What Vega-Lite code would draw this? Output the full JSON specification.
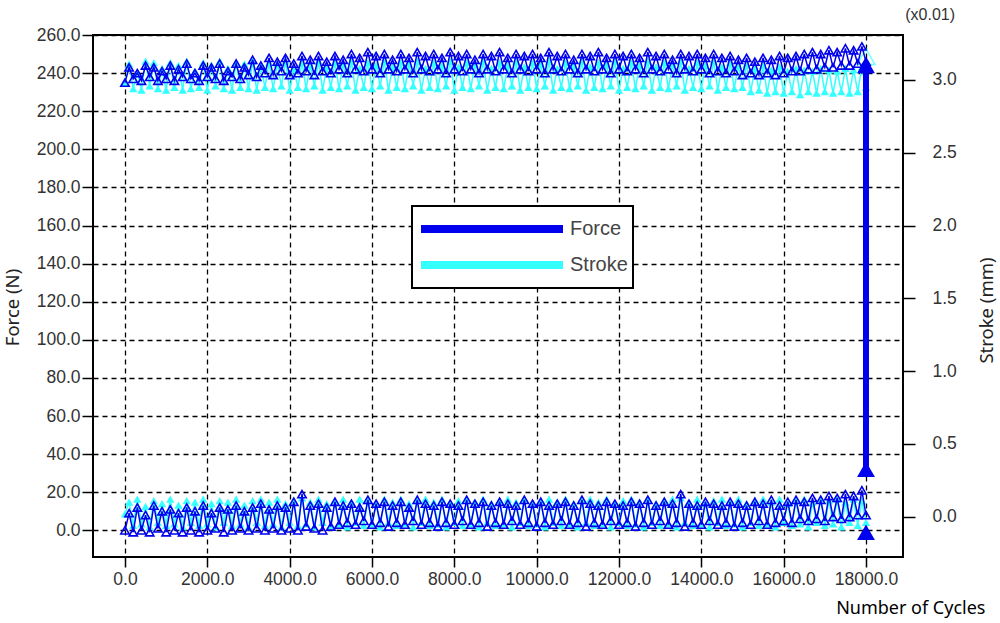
{
  "$schema": "https://vega.github.io/schema/vega-lite/v6.json",
  "width": 810,
  "height": 522,
  "autosize": {"type": "none"},
  "padding": {"left": 93, "top": 35, "right": 97, "bottom": 66},
  "background": "white",
  "title": {
    "text": "(x0.01)",
    "frame": "group",
    "anchor": "end",
    "dx": 52,
    "dy": 15,
    "offset": 5,
    "baseline": "alphabetic",
    "font": "Liberation Sans",
    "fontSize": 16,
    "fontWeight": "normal",
    "color": "#333"
  },
  "config": {
    "view": {"stroke": "black", "strokeWidth": 2},
    "axis": {
      "domain": false,
      "labelFont": "Liberation Sans",
      "labelFontSize": 17.5,
      "labelColor": "#333",
      "tickColor": "black",
      "tickWidth": 1.5,
      "titleFont": "Noto Sans",
      "titleFontSize": 18.5,
      "titleFontWeight": "normal",
      "titleColor": "#222",
      "gridColor": "black",
      "gridOpacity": 1,
      "gridDash": [5, 4],
      "gridWidth": 1.3
    },
    "legend": {
      "orient": "none",
      "legendX": 319,
      "legendY": 171,
      "strokeColor": "black",
      "strokeWidth": 2,
      "fillColor": "white",
      "padding": 5,
      "symbolType": "stroke",
      "symbolSize": 20164,
      "symbolStrokeWidth": 8,
      "clipHeight": 36,
      "rowPadding": 0,
      "labelOffset": 3,
      "labelFont": "Liberation Sans",
      "labelFontSize": 20,
      "labelColor": "#444"
    }
  },
  "datasets": {
    "cycles": [
      {"cycle": 0, "fmax": 235, "fmin": 0, "smax": 2.98, "smin": 0.02},
      {"cycle": 100, "fmax": 243, "fmin": 9, "smax": 3.11, "smin": 0.10},
      {"cycle": 200, "fmax": 237, "fmin": -1, "smax": 2.94, "smin": -0.06},
      {"cycle": 300, "fmax": 240, "fmin": 12, "smax": 3.05, "smin": 0.12},
      {"cycle": 400, "fmax": 236, "fmin": 0, "smax": 2.93, "smin": -0.05},
      {"cycle": 500, "fmax": 244, "fmin": 8, "smax": 3.13, "smin": 0.07},
      {"cycle": 600, "fmax": 238, "fmin": -1, "smax": 2.96, "smin": -0.07},
      {"cycle": 700, "fmax": 243, "fmin": 13, "smax": 3.12, "smin": 0.11},
      {"cycle": 800, "fmax": 236, "fmin": 1, "smax": 2.94, "smin": -0.04},
      {"cycle": 900, "fmax": 241, "fmin": 10, "smax": 3.08, "smin": 0.09},
      {"cycle": 1000, "fmax": 237, "fmin": -1, "smax": 2.93, "smin": -0.06},
      {"cycle": 1100, "fmax": 244, "fmin": 11, "smax": 3.12, "smin": 0.12},
      {"cycle": 1200, "fmax": 236, "fmin": 0, "smax": 2.95, "smin": -0.05},
      {"cycle": 1300, "fmax": 242, "fmin": 9, "smax": 3.10, "smin": 0.08},
      {"cycle": 1400, "fmax": 238, "fmin": -1, "smax": 2.93, "smin": -0.07},
      {"cycle": 1500, "fmax": 245, "fmin": 12, "smax": 3.13, "smin": 0.11},
      {"cycle": 1600, "fmax": 237, "fmin": 0, "smax": 2.94, "smin": -0.04},
      {"cycle": 1700, "fmax": 240, "fmin": 10, "smax": 3.06, "smin": 0.10},
      {"cycle": 1800, "fmax": 236, "fmin": -1, "smax": 2.95, "smin": -0.06},
      {"cycle": 1900, "fmax": 244, "fmin": 13, "smax": 3.12, "smin": 0.12},
      {"cycle": 2000, "fmax": 238, "fmin": 0, "smax": 2.93, "smin": -0.05},
      {"cycle": 2100, "fmax": 243, "fmin": 9, "smax": 3.10, "smin": 0.09},
      {"cycle": 2200, "fmax": 237, "fmin": 1, "smax": 2.96, "smin": -0.07},
      {"cycle": 2300, "fmax": 245, "fmin": 12, "smax": 3.13, "smin": 0.11},
      {"cycle": 2400, "fmax": 236, "fmin": -1, "smax": 2.94, "smin": -0.04},
      {"cycle": 2500, "fmax": 241, "fmin": 11, "smax": 3.08, "smin": 0.10},
      {"cycle": 2600, "fmax": 238, "fmin": 0, "smax": 2.93, "smin": -0.06},
      {"cycle": 2700, "fmax": 245, "fmin": 13, "smax": 3.12, "smin": 0.12},
      {"cycle": 2800, "fmax": 237, "fmin": 1, "smax": 2.95, "smin": -0.05},
      {"cycle": 2900, "fmax": 243, "fmin": 10, "smax": 3.11, "smin": 0.08},
      {"cycle": 3000, "fmax": 239, "fmin": 0, "smax": 2.94, "smin": -0.07},
      {"cycle": 3100, "fmax": 247, "fmin": 12, "smax": 3.13, "smin": 0.11},
      {"cycle": 3200, "fmax": 238, "fmin": 1, "smax": 2.93, "smin": -0.04},
      {"cycle": 3300, "fmax": 244, "fmin": 14, "smax": 3.09, "smin": 0.12},
      {"cycle": 3400, "fmax": 240, "fmin": 0, "smax": 2.95, "smin": -0.06},
      {"cycle": 3500, "fmax": 248, "fmin": 11, "smax": 3.12, "smin": 0.10},
      {"cycle": 3600, "fmax": 239, "fmin": 1, "smax": 2.94, "smin": -0.05},
      {"cycle": 3700, "fmax": 246, "fmin": 13, "smax": 3.11, "smin": 0.12},
      {"cycle": 3800, "fmax": 241, "fmin": 0, "smax": 2.96, "smin": -0.07},
      {"cycle": 3900, "fmax": 248, "fmin": 12, "smax": 3.13, "smin": 0.09},
      {"cycle": 4000, "fmax": 239, "fmin": 1, "smax": 2.93, "smin": -0.04},
      {"cycle": 4100, "fmax": 245, "fmin": 15, "smax": 3.08, "smin": 0.11},
      {"cycle": 4200, "fmax": 240, "fmin": 0, "smax": 2.95, "smin": -0.06},
      {"cycle": 4300, "fmax": 249, "fmin": 19, "smax": 3.12, "smin": 0.13},
      {"cycle": 4400, "fmax": 241, "fmin": 2, "smax": 2.94, "smin": -0.05},
      {"cycle": 4500, "fmax": 247, "fmin": 13, "smax": 3.10, "smin": 0.10},
      {"cycle": 4600, "fmax": 239, "fmin": 1, "smax": 2.96, "smin": -0.07},
      {"cycle": 4700, "fmax": 249, "fmin": 14, "smax": 3.13, "smin": 0.12},
      {"cycle": 4800, "fmax": 241, "fmin": 0, "smax": 2.93, "smin": -0.04},
      {"cycle": 4900, "fmax": 246, "fmin": 12, "smax": 3.09, "smin": 0.09},
      {"cycle": 5000, "fmax": 240, "fmin": 2, "smax": 2.95, "smin": -0.06},
      {"cycle": 5100, "fmax": 249, "fmin": 15, "smax": 3.12, "smin": 0.11},
      {"cycle": 5200, "fmax": 242, "fmin": 3, "smax": 2.94, "smin": -0.05},
      {"cycle": 5300, "fmax": 247, "fmin": 13, "smax": 3.11, "smin": 0.12},
      {"cycle": 5400, "fmax": 240, "fmin": 4, "smax": 2.96, "smin": -0.07},
      {"cycle": 5500, "fmax": 250, "fmin": 14, "smax": 3.13, "smin": 0.10},
      {"cycle": 5600, "fmax": 242, "fmin": 3, "smax": 2.93, "smin": -0.04},
      {"cycle": 5700, "fmax": 248, "fmin": 12, "smax": 3.08, "smin": 0.12},
      {"cycle": 5800, "fmax": 241, "fmin": 5, "smax": 2.95, "smin": -0.06},
      {"cycle": 5900, "fmax": 251, "fmin": 16, "smax": 3.12, "smin": 0.11},
      {"cycle": 6000, "fmax": 242, "fmin": 3, "smax": 2.94, "smin": -0.05},
      {"cycle": 6100, "fmax": 249, "fmin": 14, "smax": 3.10, "smin": 0.09},
      {"cycle": 6200, "fmax": 240, "fmin": 4, "smax": 2.96, "smin": -0.07},
      {"cycle": 6300, "fmax": 250, "fmin": 15, "smax": 3.13, "smin": 0.12},
      {"cycle": 6400, "fmax": 242, "fmin": 2, "smax": 2.93, "smin": -0.04},
      {"cycle": 6500, "fmax": 247, "fmin": 13, "smax": 3.09, "smin": 0.10},
      {"cycle": 6600, "fmax": 241, "fmin": 4, "smax": 2.95, "smin": -0.06},
      {"cycle": 6700, "fmax": 250, "fmin": 15, "smax": 3.12, "smin": 0.12},
      {"cycle": 6800, "fmax": 242, "fmin": 3, "smax": 2.94, "smin": -0.05},
      {"cycle": 6900, "fmax": 248, "fmin": 12, "smax": 3.11, "smin": 0.09},
      {"cycle": 7000, "fmax": 240, "fmin": 5, "smax": 2.96, "smin": -0.07},
      {"cycle": 7100, "fmax": 251, "fmin": 16, "smax": 3.13, "smin": 0.11},
      {"cycle": 7200, "fmax": 242, "fmin": 3, "smax": 2.93, "smin": -0.04},
      {"cycle": 7300, "fmax": 249, "fmin": 14, "smax": 3.08, "smin": 0.12},
      {"cycle": 7400, "fmax": 241, "fmin": 4, "smax": 2.95, "smin": -0.06},
      {"cycle": 7500, "fmax": 250, "fmin": 13, "smax": 3.12, "smin": 0.10},
      {"cycle": 7600, "fmax": 242, "fmin": 2, "smax": 2.94, "smin": -0.05},
      {"cycle": 7700, "fmax": 248, "fmin": 15, "smax": 3.10, "smin": 0.12},
      {"cycle": 7800, "fmax": 240, "fmin": 4, "smax": 2.96, "smin": -0.07},
      {"cycle": 7900, "fmax": 251, "fmin": 14, "smax": 3.13, "smin": 0.09},
      {"cycle": 8000, "fmax": 242, "fmin": 3, "smax": 2.93, "smin": -0.04},
      {"cycle": 8100, "fmax": 249, "fmin": 13, "smax": 3.09, "smin": 0.11},
      {"cycle": 8200, "fmax": 241, "fmin": 5, "smax": 2.95, "smin": -0.06},
      {"cycle": 8300, "fmax": 250, "fmin": 16, "smax": 3.12, "smin": 0.12},
      {"cycle": 8400, "fmax": 242, "fmin": 3, "smax": 2.94, "smin": -0.05},
      {"cycle": 8500, "fmax": 247, "fmin": 14, "smax": 3.11, "smin": 0.10},
      {"cycle": 8600, "fmax": 240, "fmin": 4, "smax": 2.96, "smin": -0.07},
      {"cycle": 8700, "fmax": 250, "fmin": 15, "smax": 3.13, "smin": 0.12},
      {"cycle": 8800, "fmax": 242, "fmin": 2, "smax": 2.93, "smin": -0.04},
      {"cycle": 8900, "fmax": 249, "fmin": 13, "smax": 3.08, "smin": 0.09},
      {"cycle": 9000, "fmax": 241, "fmin": 4, "smax": 2.95, "smin": -0.06},
      {"cycle": 9100, "fmax": 251, "fmin": 15, "smax": 3.12, "smin": 0.11},
      {"cycle": 9200, "fmax": 242, "fmin": 3, "smax": 2.94, "smin": -0.05},
      {"cycle": 9300, "fmax": 248, "fmin": 14, "smax": 3.10, "smin": 0.12},
      {"cycle": 9400, "fmax": 240, "fmin": 5, "smax": 2.96, "smin": -0.07},
      {"cycle": 9500, "fmax": 250, "fmin": 13, "smax": 3.13, "smin": 0.10},
      {"cycle": 9600, "fmax": 242, "fmin": 3, "smax": 2.93, "smin": -0.04},
      {"cycle": 9700, "fmax": 249, "fmin": 16, "smax": 3.09, "smin": 0.12},
      {"cycle": 9800, "fmax": 241, "fmin": 4, "smax": 2.95, "smin": -0.06},
      {"cycle": 9900, "fmax": 250, "fmin": 14, "smax": 3.12, "smin": 0.09},
      {"cycle": 10000, "fmax": 242, "fmin": 2, "smax": 2.94, "smin": -0.05},
      {"cycle": 10100, "fmax": 248, "fmin": 15, "smax": 3.11, "smin": 0.11},
      {"cycle": 10200, "fmax": 240, "fmin": 4, "smax": 2.96, "smin": -0.07},
      {"cycle": 10300, "fmax": 251, "fmin": 13, "smax": 3.13, "smin": 0.12},
      {"cycle": 10400, "fmax": 242, "fmin": 3, "smax": 2.93, "smin": -0.04},
      {"cycle": 10500, "fmax": 249, "fmin": 14, "smax": 3.08, "smin": 0.10},
      {"cycle": 10600, "fmax": 241, "fmin": 5, "smax": 2.95, "smin": -0.06},
      {"cycle": 10700, "fmax": 250, "fmin": 15, "smax": 3.12, "smin": 0.12},
      {"cycle": 10800, "fmax": 242, "fmin": 3, "smax": 2.94, "smin": -0.05},
      {"cycle": 10900, "fmax": 247, "fmin": 13, "smax": 3.10, "smin": 0.09},
      {"cycle": 11000, "fmax": 240, "fmin": 4, "smax": 2.96, "smin": -0.07},
      {"cycle": 11100, "fmax": 250, "fmin": 16, "smax": 3.13, "smin": 0.11},
      {"cycle": 11200, "fmax": 242, "fmin": 2, "smax": 2.93, "smin": -0.04},
      {"cycle": 11300, "fmax": 249, "fmin": 14, "smax": 3.09, "smin": 0.12},
      {"cycle": 11400, "fmax": 241, "fmin": 4, "smax": 2.95, "smin": -0.06},
      {"cycle": 11500, "fmax": 251, "fmin": 13, "smax": 3.12, "smin": 0.10},
      {"cycle": 11600, "fmax": 242, "fmin": 3, "smax": 2.94, "smin": -0.05},
      {"cycle": 11700, "fmax": 248, "fmin": 15, "smax": 3.11, "smin": 0.12},
      {"cycle": 11800, "fmax": 240, "fmin": 5, "smax": 2.96, "smin": -0.07},
      {"cycle": 11900, "fmax": 250, "fmin": 14, "smax": 3.13, "smin": 0.09},
      {"cycle": 12000, "fmax": 242, "fmin": 3, "smax": 2.93, "smin": -0.04},
      {"cycle": 12100, "fmax": 249, "fmin": 13, "smax": 3.08, "smin": 0.11},
      {"cycle": 12200, "fmax": 241, "fmin": 4, "smax": 2.95, "smin": -0.06},
      {"cycle": 12300, "fmax": 250, "fmin": 15, "smax": 3.12, "smin": 0.12},
      {"cycle": 12400, "fmax": 242, "fmin": 2, "smax": 2.94, "smin": -0.05},
      {"cycle": 12500, "fmax": 248, "fmin": 14, "smax": 3.10, "smin": 0.10},
      {"cycle": 12600, "fmax": 240, "fmin": 4, "smax": 2.96, "smin": -0.07},
      {"cycle": 12700, "fmax": 251, "fmin": 16, "smax": 3.13, "smin": 0.12},
      {"cycle": 12800, "fmax": 242, "fmin": 3, "smax": 2.93, "smin": -0.04},
      {"cycle": 12900, "fmax": 249, "fmin": 13, "smax": 3.09, "smin": 0.09},
      {"cycle": 13000, "fmax": 241, "fmin": 5, "smax": 2.95, "smin": -0.06},
      {"cycle": 13100, "fmax": 250, "fmin": 15, "smax": 3.12, "smin": 0.11},
      {"cycle": 13200, "fmax": 242, "fmin": 3, "smax": 2.94, "smin": -0.05},
      {"cycle": 13300, "fmax": 247, "fmin": 14, "smax": 3.11, "smin": 0.12},
      {"cycle": 13400, "fmax": 240, "fmin": 4, "smax": 2.96, "smin": -0.07},
      {"cycle": 13500, "fmax": 250, "fmin": 19, "smax": 3.13, "smin": 0.13},
      {"cycle": 13600, "fmax": 242, "fmin": 2, "smax": 2.93, "smin": -0.04},
      {"cycle": 13700, "fmax": 249, "fmin": 14, "smax": 3.08, "smin": 0.10},
      {"cycle": 13800, "fmax": 241, "fmin": 4, "smax": 2.95, "smin": -0.06},
      {"cycle": 13900, "fmax": 250, "fmin": 13, "smax": 3.12, "smin": 0.12},
      {"cycle": 14000, "fmax": 242, "fmin": 3, "smax": 2.94, "smin": -0.05},
      {"cycle": 14100, "fmax": 248, "fmin": 15, "smax": 3.10, "smin": 0.09},
      {"cycle": 14200, "fmax": 240, "fmin": 5, "smax": 2.96, "smin": -0.07},
      {"cycle": 14300, "fmax": 250, "fmin": 14, "smax": 3.13, "smin": 0.11},
      {"cycle": 14400, "fmax": 241, "fmin": 3, "smax": 2.93, "smin": -0.04},
      {"cycle": 14500, "fmax": 248, "fmin": 13, "smax": 3.09, "smin": 0.12},
      {"cycle": 14600, "fmax": 240, "fmin": 4, "smax": 2.95, "smin": -0.06},
      {"cycle": 14700, "fmax": 249, "fmin": 15, "smax": 3.12, "smin": 0.10},
      {"cycle": 14800, "fmax": 241, "fmin": 2, "smax": 2.94, "smin": -0.05},
      {"cycle": 14900, "fmax": 247, "fmin": 14, "smax": 3.10, "smin": 0.12},
      {"cycle": 15000, "fmax": 239, "fmin": 4, "smax": 2.95, "smin": -0.07},
      {"cycle": 15100, "fmax": 248, "fmin": 13, "smax": 3.11, "smin": 0.09},
      {"cycle": 15200, "fmax": 240, "fmin": 3, "smax": 2.92, "smin": -0.04},
      {"cycle": 15300, "fmax": 246, "fmin": 15, "smax": 3.08, "smin": 0.11},
      {"cycle": 15400, "fmax": 239, "fmin": 5, "smax": 2.93, "smin": -0.06},
      {"cycle": 15500, "fmax": 248, "fmin": 14, "smax": 3.10, "smin": 0.12},
      {"cycle": 15600, "fmax": 240, "fmin": 3, "smax": 2.91, "smin": -0.05},
      {"cycle": 15700, "fmax": 247, "fmin": 16, "smax": 3.07, "smin": 0.10},
      {"cycle": 15800, "fmax": 239, "fmin": 4, "smax": 2.92, "smin": -0.07},
      {"cycle": 15900, "fmax": 249, "fmin": 13, "smax": 3.09, "smin": 0.12},
      {"cycle": 16000, "fmax": 240, "fmin": 5, "smax": 2.91, "smin": -0.04},
      {"cycle": 16100, "fmax": 248, "fmin": 15, "smax": 3.06, "smin": 0.09},
      {"cycle": 16200, "fmax": 241, "fmin": 4, "smax": 2.92, "smin": -0.06},
      {"cycle": 16300, "fmax": 249, "fmin": 16, "smax": 3.08, "smin": 0.11},
      {"cycle": 16400, "fmax": 241, "fmin": 6, "smax": 2.90, "smin": -0.05},
      {"cycle": 16500, "fmax": 250, "fmin": 15, "smax": 3.07, "smin": 0.12},
      {"cycle": 16600, "fmax": 242, "fmin": 5, "smax": 2.92, "smin": -0.07},
      {"cycle": 16700, "fmax": 251, "fmin": 17, "smax": 3.06, "smin": 0.10},
      {"cycle": 16800, "fmax": 242, "fmin": 6, "smax": 2.91, "smin": -0.04},
      {"cycle": 16900, "fmax": 250, "fmin": 16, "smax": 3.08, "smin": 0.12},
      {"cycle": 17000, "fmax": 243, "fmin": 5, "smax": 2.92, "smin": -0.06},
      {"cycle": 17100, "fmax": 252, "fmin": 18, "smax": 3.07, "smin": 0.11},
      {"cycle": 17200, "fmax": 243, "fmin": 7, "smax": 2.91, "smin": -0.05},
      {"cycle": 17300, "fmax": 251, "fmin": 17, "smax": 3.06, "smin": 0.12},
      {"cycle": 17400, "fmax": 244, "fmin": 6, "smax": 2.92, "smin": -0.07},
      {"cycle": 17500, "fmax": 253, "fmin": 19, "smax": 3.08, "smin": 0.10},
      {"cycle": 17600, "fmax": 244, "fmin": 7, "smax": 2.91, "smin": -0.04},
      {"cycle": 17700, "fmax": 252, "fmin": 18, "smax": 3.07, "smin": 0.12},
      {"cycle": 17800, "fmax": 245, "fmin": 8, "smax": 2.92, "smin": -0.06},
      {"cycle": 17900, "fmax": 254, "fmin": 21, "smax": 3.09, "smin": 0.11},
      {"cycle": 18000, "fmax": 246, "fmin": 8, "smax": 2.95, "smin": -0.04}
    ],
    "failure": [
      {"cycle": 18000, "force": 244, "force_end": 32}
    ],
    "forceEnds": [
      {"cycle": 18000, "force": 244},
      {"cycle": 18000, "force": 32},
      {"cycle": 18000, "force": -1}
    ],
    "strokeEnds": [
      {"cycle": 18000, "stroke": 3.16}
    ]
  },
  "encoding": {
    "x": {
      "field": "cycle",
      "type": "quantitative",
      "scale": {"domain": [-777, 18899], "nice": false, "zero": false},
      "axis": {
        "values": [0, 2000, 4000, 6000, 8000, 10000, 12000, 14000, 16000, 18000],
        "format": ".1f",
        "grid": true,
        "tickSize": 10,
        "labelPadding": 3,
        "title": "Number of Cycles",
        "titleX": 892,
        "titleY": 56,
        "titleAlign": "right",
        "titleBaseline": "alphabetic",
        "titleFontSize": 18,
        "titleColor": "black"
      }
    }
  },
  "layer": [
    {
      "encoding": {
        "y": {
          "field": "stroke",
          "type": "quantitative",
          "scale": {"domain": [-0.277, 3.309], "nice": false, "zero": false},
          "axis": {
            "orient": "right",
            "values": [0, 0.5, 1, 1.5, 2, 2.5, 3],
            "format": ".1f",
            "grid": false,
            "tickSize": 12,
            "labelPadding": 17,
            "title": "Stroke (mm)",
            "titleAngle": 270,
            "titleX": 83,
            "titleY": 275,
            "titleAlign": "center",
            "titleBaseline": "middle"
          }
        },
        "color": {"datum": "Stroke"}
      },
      "layer": [
        {
          "data": {"name": "cycles"},
          "transform": [{"fold": ["smax", "smin"], "as": ["band", "stroke"]}],
          "mark": {
            "type": "line",
            "strokeWidth": 1.5,
            "point": {"shape": "triangle-up", "filled": true, "size": 70}
          },
          "encoding": {"detail": {"field": "band"}}
        },
        {
          "data": {"name": "strokeEnds"},
          "mark": {"type": "point", "shape": "triangle-up", "filled": false, "size": 320, "strokeWidth": 1.5}
        }
      ]
    },
    {
      "encoding": {
        "y": {
          "field": "force",
          "type": "quantitative",
          "scale": {"domain": [-14, 260], "nice": false, "zero": false},
          "axis": {
            "orient": "left",
            "values": [0, 20, 40, 60, 80, 100, 120, 140, 160, 180, 200, 220, 240, 260],
            "format": ".1f",
            "grid": true,
            "tickSize": 11,
            "labelPadding": 2,
            "title": "Force (N)",
            "titleAngle": 270,
            "titleX": -81,
            "titleY": 272,
            "titleAlign": "center",
            "titleBaseline": "middle"
          }
        },
        "color": {
          "datum": "Force",
          "scale": {"domain": ["Force", "Stroke"], "range": ["#0000ee", "#33ffff"]},
          "legend": {"title": null}
        }
      },
      "layer": [
        {
          "data": {"name": "cycles"},
          "transform": [{"fold": ["fmax", "fmin"], "as": ["band", "force"]}],
          "mark": {
            "type": "line",
            "strokeWidth": 1.5,
            "point": {"shape": "triangle-up", "filled": false, "size": 70, "strokeWidth": 1.6}
          },
          "encoding": {"detail": {"field": "band"}}
        },
        {
          "data": {"name": "failure"},
          "mark": {"type": "rule", "strokeWidth": 6},
          "encoding": {"y2": {"field": "force_end"}}
        },
        {
          "data": {"name": "forceEnds"},
          "mark": {"type": "point", "shape": "triangle-up", "filled": true, "size": 320, "opacity": 1}
        }
      ]
    }
  ],
  "resolve": {"scale": {"y": "independent"}}
}
